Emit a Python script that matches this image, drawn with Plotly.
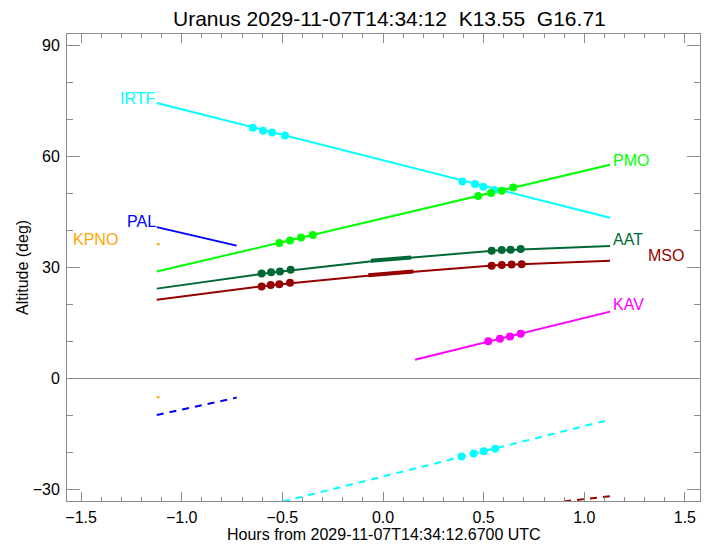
import plotly.graph_objects as go

# ---- data (hours from reference time, altitude in deg) ----
t_full = [-1.124, -0.56, 0.0, 0.56, 1.128]
irtf_alt = [74.4, 66.6, 58.8, 51.2, 43.4]
pmo_alt = [28.9, 36.1, 43.3, 50.4, 57.7]
aat_alt = [24.3, 28.6, 32.0, 34.6, 35.8]
mso_alt = [21.3, 25.2, 28.2, 30.6, 31.8]

pal_t = [-1.124, -0.727]
pal_alt = [40.9, 35.9]
pal_dash_alt = [-9.8, -5.1]

kpno_t = [-1.124, -1.110]
kpno_alt = [36.3, 36.3]
kpno_dash_alt = [-5.0, -5.0]

kav_t = [0.159, 1.128]
kav_alt = [5.1, 18.1]

irtf_dash_t = [-0.56, 0.0, 0.56, 1.128]
irtf_dash_alt = [-34.0, -26.4, -18.8, -11.05]

mso_dash_t = [0.90, 1.128]
mso_dash_alt = [-33.1, -31.7]

aat_thick_t = [-0.06, 0.14]
aat_thick_alt = [31.8, 32.7]
mso_thick_t = [-0.073, 0.151]
mso_thick_alt = [27.9, 28.9]

# observation dots
irtf_dot_t = [-0.647, -0.596, -0.551, -0.487, 0.394, 0.457, 0.498, 0.553]
irtf_dot_alt = [67.7, 66.9, 66.4, 65.6, 53.2, 52.5, 51.8, 50.9]
irtf_dash_dot_t = [0.39, 0.45, 0.50, 0.557]
irtf_dash_dot_alt = [-21.0, -20.2, -19.6, -18.9]
pmo_dot_t = [-0.515, -0.462, -0.407, -0.349, 0.473, 0.537, 0.59, 0.647]
pmo_dot_alt = [36.6, 37.3, 38.1, 38.8, 49.3, 50.1, 50.7, 51.6]
aat_dot_t = [-0.603, -0.556, -0.512, -0.459, 0.54, 0.59, 0.634, 0.684]
aat_dot_alt = [28.4, 28.7, 28.9, 29.4, 34.5, 34.7, 34.8, 35.0]
mso_dot_t = [-0.603, -0.558, -0.515, -0.462, 0.54, 0.59, 0.639, 0.689]
mso_dot_alt = [24.9, 25.3, 25.5, 25.9, 30.5, 30.7, 30.8, 30.9]
kav_dot_t = [0.523, 0.581, 0.631, 0.684]
kav_dot_alt = [10.1, 10.8, 11.4, 12.1]

# labels
lab_names = ["IRTF", "PAL", "KPNO", "PMO", "AAT", "MSO", "KAV"]
lab_t = [-1.128, -1.124, -1.311, 1.136, 1.136, 1.313, 1.136]
lab_alt = [75.7, 42.4, 37.65, 59.0, 37.5, 33.2, 19.9]
lab_anchor = ["right", "right", "right", "left", "left", "left", "left"]

title_text = "Uranus 2029-11-07T14:34:12  K13.55  G16.71"
xlabel = "Hours from 2029-11-07T14:34:12.6700 UTC"
ylabel = "Altitude (deg)"

CYAN = "#00FFFF"
GREEN = "#00FF00"
BLUE = "#0000FF"
ORANGE = "#FFA500"
DKGREEN = "#006837"
DKRED = "#960000"
MAGENTA = "#FF00FF"
AXC = "#8c8c8c"
FONT = "Liberation Sans"

fig = go.Figure()

def line(x, y, color, dash="solid", width=2):
    fig.add_trace(go.Scatter(x=x, y=y, mode="lines",
                             line=dict(color=color, width=width, dash=dash),
                             hoverinfo="skip", showlegend=False, cliponaxis=True))

def dots(x, y, color):
    fig.add_trace(go.Scatter(x=x, y=y, mode="markers",
                             marker=dict(color=color, size=8, line=dict(width=0)),
                             hoverinfo="skip", showlegend=False))

DASH = "7px,6px"
line(t_full, irtf_alt, CYAN)
line(irtf_dash_t, irtf_dash_alt, CYAN, DASH)
line(t_full, pmo_alt, GREEN)
line(t_full, aat_alt, DKGREEN)
line(t_full, mso_alt, DKRED)
line(pal_t, pal_alt, BLUE)
line(pal_t, pal_dash_alt, BLUE, DASH)
line(kpno_t, kpno_alt, ORANGE)
line(kpno_t, kpno_dash_alt, ORANGE)
line(kav_t, kav_alt, MAGENTA)
line(mso_dash_t, mso_dash_alt, DKRED, DASH)
line(aat_thick_t, aat_thick_alt, DKGREEN, width=4)
line(mso_thick_t, mso_thick_alt, DKRED, width=4)

dots(irtf_dot_t, irtf_dot_alt, CYAN)
dots(irtf_dash_dot_t, irtf_dash_dot_alt, CYAN)
dots(pmo_dot_t, pmo_dot_alt, GREEN)
dots(aat_dot_t, aat_dot_alt, DKGREEN)
dots(mso_dot_t, mso_dot_alt, DKRED)
dots(kav_dot_t, kav_dot_alt, MAGENTA)

lab_colors = [CYAN, BLUE, ORANGE, GREEN, DKGREEN, DKRED, MAGENTA]
for n, x, y, a, c in zip(lab_names, lab_t, lab_alt, lab_anchor, lab_colors):
    fig.add_annotation(x=x, y=y, text=n, showarrow=False, xanchor=a, yanchor="middle",
                       font=dict(family=FONT, size=16, color=c), borderpad=0)

# title and axis titles as paper annotations
fig.add_annotation(x=0.51, y=1.034, xref="paper", yref="paper", text=title_text,
                   showarrow=False, xanchor="center", yanchor="middle",
                   font=dict(family=FONT, size=21, color="black"))
fig.add_annotation(x=0.5, y=-0.0707, xref="paper", yref="paper", text=xlabel,
                   showarrow=False, xanchor="center", yanchor="middle",
                   font=dict(family=FONT, size=16, color="black"))
fig.add_annotation(x=-0.0711, y=0.501, xref="paper", yref="paper", text=ylabel,
                   showarrow=False, xanchor="center", yanchor="middle", textangle=-90,
                   font=dict(family=FONT, size=16, color="black"))

# page has an 8px body margin, so the figure is sized 8px smaller
fig.update_layout(
    width=702, height=536,
    margin=dict(l=59, r=10, t=26, b=43, autoexpand=False),
    paper_bgcolor="white", plot_bgcolor="white",
    font=dict(family=FONT, size=16, color="black"),
    showlegend=False,
)
fig.update_xaxes(
    range=[-1.57, 1.575], tick0=-1.5, dtick=0.5, tickformat=".1f",
    ticks="inside", ticklen=9, tickcolor=AXC, tickwidth=1,
    minor=dict(dtick=0.1, tick0=0, ticks="inside", ticklen=4, tickcolor=AXC),
    showline=True, linecolor=AXC, linewidth=1, mirror="ticks",
    showgrid=False, zeroline=False, automargin=False,
    tickfont=dict(size=16), ticklabelstandoff=2,
)
fig.update_yaxes(
    range=[-33, 93], tick0=0, dtick=30,
    ticks="inside", ticklen=13, tickcolor=AXC, tickwidth=1,
    minor=dict(dtick=10, tick0=0, ticks="inside", ticklen=6, tickcolor=AXC),
    showline=True, linecolor=AXC, linewidth=1, mirror="ticks",
    showgrid=False, zeroline=True, zerolinecolor=AXC, zerolinewidth=1,
    automargin=False, tickfont=dict(size=16), ticklabelstandoff=3,
)

fig.write_html("out.html")
